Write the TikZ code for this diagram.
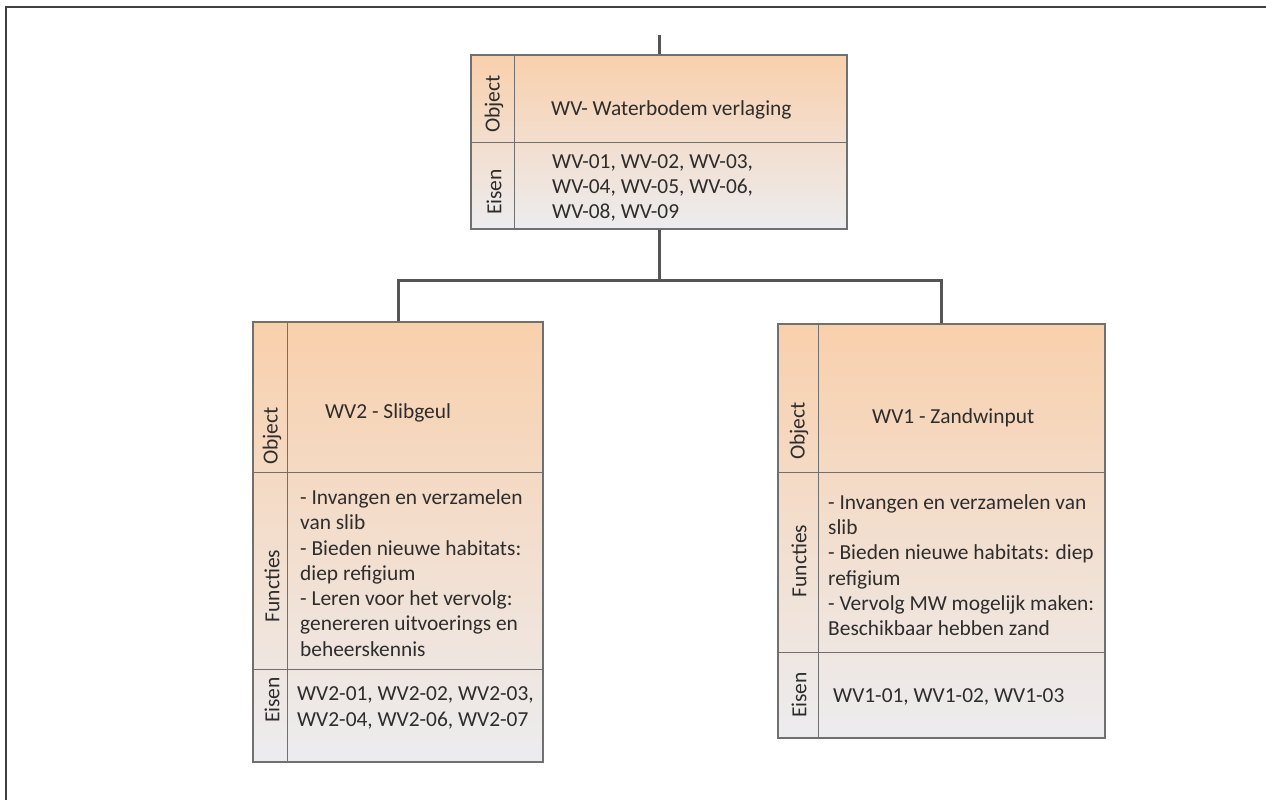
\documentclass[tikz,border=0pt]{standalone}
\usepackage{fontspec}
\setmainfont{Carlito}
\definecolor{peach}{RGB}{249,208,172}
\definecolor{greyf}{RGB}{236,236,239}
\definecolor{edge}{RGB}{112,112,112}
\definecolor{conn}{RGB}{85,85,85}
\definecolor{txtc}{RGB}{45,45,45}
\begin{document}
\begin{tikzpicture}[x=1pt,y=-1pt,
  boxshape/.style={draw=edge, line width=1.6pt, top color=peach, bottom color=greyf, inner sep=0pt},
  sep/.style={draw=edge, line width=1.4pt},
  conline/.style={draw=conn, line width=3pt},
  frameline/.style={draw=black!75, line width=2.5pt},
  txt/.style={font=\fontsize{21.4}{25.3}\selectfont, align=left, anchor=west, inner sep=0pt, text=txtc},
  lab/.style={font=\fontsize{21.5}{24}\selectfont, rotate=90, inner sep=0pt, text=txtc}]
\useasboundingbox (0,0) rectangle (1266,800);
\draw[frameline] (1266,7) -- (6,7) -- (6,800);

% top box
\node[boxshape, minimum width=376pt, minimum height=174pt] (wv) at (659,142) {};
\draw[sep] ([xshift=44pt]wv.north west) -- ([xshift=44pt]wv.south west);
\draw[sep] ([yshift=-88pt]wv.north west) -- ([yshift=-88pt]wv.north east);
\node[lab] (wvlo) at (494,104) {Object};
\node[lab] (wvle) at (494,192) {Eisen};
\node[txt] (wvo) at (551,110) {WV- Waterbodem verlaging};
\node[txt] (wve) at (552,188) {WV-01, WV-02, WV-03,\\WV-04, WV-05, WV-06,\\WV-08, WV-09};

% left box
\node[boxshape, minimum width=290pt, minimum height=440pt] (slib) at (398,542) {};
\draw[sep] ([xshift=35pt]slib.north west) -- ([xshift=35pt]slib.south west);
\draw[sep] ([yshift=-151pt]slib.north west) -- ([yshift=-151pt]slib.north east);
\draw[sep] ([yshift=-348pt]slib.north west) -- ([yshift=-348pt]slib.north east);
\node[lab] (slo) at (272,436) {Object};
\node[lab] (slf) at (272,586) {Functies};
\node[lab] (sle) at (272,700) {Eisen};
\node[txt] (sto) at (325,413) {WV2 - Slibgeul};
\node[txt] (stf) at (300,573) {- Invangen en verzamelen\\van slib\\- Bieden nieuwe habitats:\\diep refigium\\- Leren voor het vervolg:\\genereren uitvoerings en\\beheerskennis};
\node[txt] (ste) at (297,708) {WV2-01, WV2-02, WV2-03,\\WV2-04, WV2-06, WV2-07};

% right box
\node[boxshape, minimum width=327pt, minimum height=414pt] (zand) at (941.5,531) {};
\draw[sep] ([xshift=41pt]zand.north west) -- ([xshift=41pt]zand.south west);
\draw[sep] ([yshift=-149pt]zand.north west) -- ([yshift=-149pt]zand.north east);
\draw[sep] ([yshift=-329pt]zand.north west) -- ([yshift=-329pt]zand.north east);
\node[lab] (zlo) at (799,431) {Object};
\node[lab] (zlf) at (799,561) {Functies};
\node[lab] (zle) at (799,695) {Eisen};
\node[txt] (zto) at (872,418) {WV1 - Zandwinput};
\node[txt] (ztf) at (828,565) {- Invangen en verzamelen van\\slib\\- Bieden nieuwe habitats: diep\\refigium\\- Vervolg MW mogelijk maken:\\Beschikbaar hebben zand};
\node[txt] (zte) at (833,697) {WV1-01, WV1-02, WV1-03};

% connectors
\coordinate (topin) at (659,35);
\coordinate (jn) at (659,280);
\draw[conline] (topin) -- (wv.north);
\draw[conline] (wv.south) -- (jn);
\draw[conline] (slib.north) |- (jn) -| (zand.north);
\end{tikzpicture}
\end{document}
